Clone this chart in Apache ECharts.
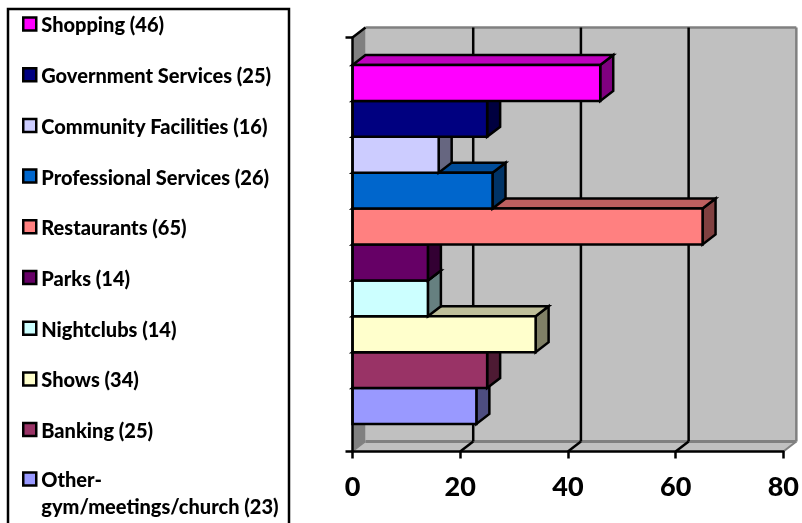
<!DOCTYPE html>
<html>
<head>
<meta charset="utf-8">
<style>html,body{margin:0;padding:0;background:#fff}#chart{width:802px;height:523px}</style>
<script src="https://cdn.jsdelivr.net/npm/echarts@6/dist/echarts.min.js"></script>
</head>
<body>
<div id="chart"></div>
<script>
// Survey categories, listed from the top bar to the bottom bar
const categories = ['Shopping', 'Government Services', 'Community Facilities', 'Professional Services',
  'Restaurants', 'Parks', 'Nightclubs', 'Shows', 'Banking', 'Other-\ngym/meetings/church'];
const counts = [46, 25, 16, 26, 65, 14, 14, 34, 25, 23];
const frontColors = ['#FF00FF', '#000080', '#CCCCFF', '#0066CC', '#FF8080', '#660066', '#CCFFFF', '#FFFFCC', '#993366', '#9999FF'];
const topColors = ['#BF00BF', '#000060', '#9999BF', '#004C99', '#BF6060', '#4C004C', '#99BFBF', '#BFBF99', '#732650', '#7373BF'];
const sideColors = ['#800080', '#000040', '#666680', '#003366', '#804040', '#330033', '#668080', '#808066', '#4D1A33', '#4D4D80'];
const xTicks = [0, 20, 40, 60, 80];

// Oblique offset of the 3D box and the share of the band the bars occupy
const DEPTH_X = 13, DEPTH_Y = 10, BAND_FILL = 0.867;
const GREY = '#808080', WALL = '#C0C0C0';

const labels = categories.map((c, i) => `${c} (${counts[i]})`);

function poly(points, fill, stroke, lineWidth) {
  return { type: 'polygon', shape: { points }, style: { fill, stroke: stroke || null, lineWidth: lineWidth || 0, lineJoin: 'miter' } };
}
function seg(x1, y1, x2, y2, stroke, lineWidth) {
  return { type: 'line', shape: { x1, y1, x2, y2 }, style: { stroke, lineWidth } };
}

// Back wall, left wall and floor of the 3D box, with gridlines taken from the value axis
function renderBox(params, api) {
  const cs = params.coordSys;
  const l = cs.x, t = cs.y, r = cs.x + cs.width, b = cs.y + cs.height;
  const bl = l + DEPTH_X, br = r + DEPTH_X, bt = t - DEPTH_Y, bb = b - DEPTH_Y;
  const kids = [
    poly([[bl, bt], [br, bt], [br, bb], [bl, bb]], WALL),
    poly([[l, t], [bl, bt], [bl, bb], [l, b]], GREY),
    poly([[l, b], [bl, bb], [br, bb], [r, b]], WALL),
    seg(bl, bt, br, bt, GREY, 2.5),
    seg(br, bt, br, bb, GREY, 2.5),
    seg(bl, bb, br, bb, GREY, 3),
    seg(br, bb, r, b, GREY, 2),
    seg(l, b, bl, bb, GREY, 1.5),
    seg(l, t, bl, bt, '#000', 2.5)
  ];
  xTicks.slice(1, -1).forEach(v => {
    const x = api.coord([v, 0])[0];
    kids.push(seg(x + DEPTH_X, bt, x + DEPTH_X, bb, '#000', 2.5));
    kids.push(seg(x + DEPTH_X, bb, x, b, '#000', 2.5));
  });
  return { type: 'group', children: kids };
}

// One 3D bar: side face, top face and front face placed in its slot of the band
function barRenderer(slot) {
  return function (params, api) {
    const base = api.coord([0, 0]);
    const end = api.coord([api.value(0), 0]);
    const band = api.size([0, 1])[1] * BAND_FILL;
    const h = band / categories.length;
    const y0 = base[1] - band / 2 + slot * h;
    const y1 = y0 + h;
    const x0 = base[0], x1 = end[0];
    const border = ['#000', 2.5];
    return {
      type: 'group',
      children: [
        poly([[x1, y0], [x1 + DEPTH_X, y0 - DEPTH_Y], [x1 + DEPTH_X, y1 - DEPTH_Y], [x1, y1]], sideColors[slot], ...border),
        poly([[x0, y0], [x0 + DEPTH_X, y0 - DEPTH_Y], [x1 + DEPTH_X, y0 - DEPTH_Y], [x1, y0]], topColors[slot], ...border),
        poly([[x0, y0], [x1, y0], [x1, y1], [x0, y1]], frontColors[slot], ...border)
      ]
    };
  };
}

const series = [{
  type: 'custom', name: 'box', silent: true, clip: false, z: 1,
  data: [[0, 0]], renderItem: renderBox
}];
// Lower bars are painted first so the bar above hides their top face
for (let i = categories.length - 1; i >= 0; i--) {
  series.push({
    type: 'custom', name: labels[i], silent: true, clip: false, z: 2,
    itemStyle: { color: frontColors[i] },
    encode: { x: 0, y: 1 },
    data: [[counts[i], 0]],
    renderItem: barRenderer(i)
  });
}

const legendBase = {
  orient: 'vertical', left: 22, padding: 0, selectedMode: false, icon: 'rect',
  itemWidth: 13, itemHeight: 13,
  itemStyle: { borderColor: '#000', borderWidth: 2.5 }
};
const legendFont = { fontFamily: 'Lato', fontWeight: 900, fontSize: 20, color: '#000' };
// Rich tokens with top padding sit the text slightly below the marker's centre
const richLine = lineHeight => ({ t: Object.assign({ lineHeight, padding: [4, 0, 0, 0] }, legendFont) });
const tokens = name => name.split('\n').map(line => `{t|${line}}`).join('\n');

const chart = echarts.init(document.getElementById('chart'), null, { renderer: 'canvas' });
chart.setOption({
  animation: false,
  backgroundColor: '#fff',
  graphic: [{
    type: 'rect', z: 0, silent: true,
    shape: { x: 8, y: 9, width: 281, height: 530 },
    style: { fill: '#fff', stroke: '#000', lineWidth: 2.5 }
  }],
  grid: { left: 352.5, top: 37.5, width: 433, height: 414 },
  xAxis: {
    type: 'value', min: 0, max: 80, interval: 20, z: 5,
    axisLine: { show: true, lineStyle: { color: '#000', width: 2.5 } },
    axisTick: { show: true, length: 7, lineStyle: { color: '#000', width: 2.5 } },
    axisLabel: { fontFamily: 'Lato', fontWeight: 900, fontSize: 27, color: '#000', margin: 22, showMinLabel: true, showMaxLabel: true, hideOverlap: false },
    splitLine: { show: false }
  },
  yAxis: {
    type: 'category', data: ['Amenities'], z: 5,
    axisLine: { show: true, lineStyle: { color: '#000', width: 2.5 } },
    axisTick: { show: true, length: 7, lineStyle: { color: '#000', width: 2.5 } },
    axisLabel: { show: false }
  },
  legend: [
    Object.assign({}, legendBase, {
      top: 12, itemGap: 26.7, data: labels.slice(0, 9),
      formatter: tokens,
      textStyle: Object.assign({ rich: richLine(20) }, legendFont)
    }),
    // The wrapped entry: a blank first line keeps the marker beside "Other-"
    Object.assign({}, legendBase, {
      top: 440, data: labels.slice(9),
      formatter: name => tokens(' \n' + name),
      textStyle: Object.assign({ rich: richLine(27) }, legendFont)
    })
  ],
  series
});
</script>
</body>
</html>
